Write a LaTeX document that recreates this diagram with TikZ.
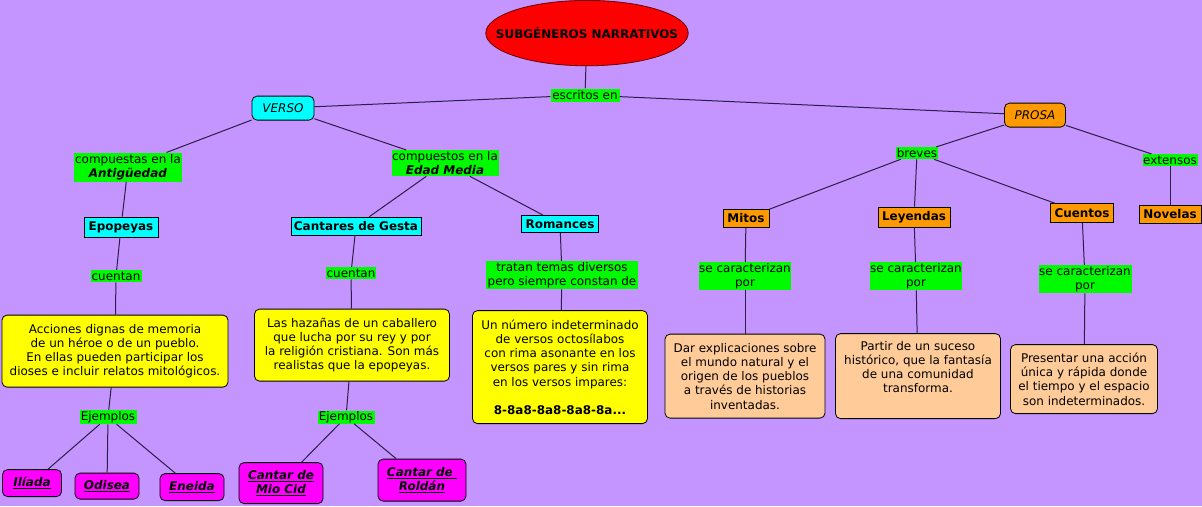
\documentclass[tikz,border=0pt]{standalone}
\usepackage{fontspec}
\setmainfont{DejaVu Sans}
\usetikzlibrary{shapes.geometric}
\definecolor{bg}{RGB}{196,148,255}
\definecolor{lgreen}{RGB}{0,250,0}
\definecolor{ccyan}{RGB}{0,255,255}
\definecolor{corange}{RGB}{255,153,0}
\definecolor{cyellow}{RGB}{255,255,0}
\definecolor{cpeach}{RGB}{255,204,153}
\definecolor{cmag}{RGB}{255,0,255}
\definecolor{cred}{RGB}{255,0,0}
\definecolor{linec}{RGB}{45,30,70}
\begin{document}
\begin{tikzpicture}[x=1bp,y=-1bp,
  every node/.style={font=\fontsize{12}{14.3}\selectfont, align=center, inner sep=0pt},
  sz/.style 2 args={minimum width=#1bp, minimum height=#2bp},
  lbl/.style={fill=lgreen},
  cbox/.style={draw=black, line width=0.8bp},
  rbox/.style={cbox, rounded corners=5bp},
  cyanbox/.style={cbox, fill=ccyan, font=\fontsize{12}{14.3}\selectfont\bfseries},
  orbox/.style={cbox, fill=corange, font=\fontsize{12}{14.3}\selectfont\bfseries},
  ylbox/.style={rbox, fill=cyellow},
  pcbox/.style={rbox, fill=cpeach},
  mgbox/.style={rbox, fill=cmag, font=\fontsize{12}{14.3}\selectfont\bfseries\itshape},
  con/.style={draw=linec, line width=1bp}
]
\fill[bg] (0,0) rectangle (1202,506);

% title
\node[ellipse, draw=black!60!red, line width=0.8bp, fill=cred, inner xsep=-19.5bp, inner ysep=17.5bp, font=\fontsize{12}{14.3}\selectfont\bfseries] (t) at (587,33) {SUBGÉNEROS NARRATIVOS};
\node[lbl, sz={69}{13}] (esc) at (585,95) {escritos en};
\node[rbox, fill=ccyan, sz={62}{24}, font=\fontsize{12}{14.3}\selectfont\itshape] (verso) at (283,108) {VERSO};
\node[rbox, fill=corange, sz={61}{24}, font=\fontsize{12}{14.3}\selectfont\itshape] (prosa) at (1035,115) {PROSA};

% verso branch
\node[lbl, sz={108}{29}] (antig) at (128,167) {compuestas en la\\\textbf{\textit{Antigüedad}}};
\node[lbl, sz={107}{26}] (edad) at (445,163) {compuestos en la\\\textbf{\textit{Edad Media}}};
\node[cyanbox, sz={74}{20}] (epop) at (121,227) {Epopeyas};
\node[cyanbox, sz={130}{18}] (cant) at (356,226) {Cantares de Gesta};
\node[cyanbox, sz={77}{17}] (rom) at (560,224) {Romances};
\node[lbl, sz={51}{12}] (cue1) at (116,276) {cuentan};
\node[lbl, sz={50}{12}] (cue2) at (351,273) {cuentan};
\node[lbl, sz={152}{28}] (trat) at (562,275) {tratan temas diversos\\pero siempre constan de};
\node[ylbox, sz={226}{72}] (acc) at (115,351) {Acciones dignas de memoria\\de un héroe o de un pueblo.\\En ellas pueden participar los\\dioses e incluir relatos mitológicos.};
\node[ylbox, sz={195}{72}] (haz) at (352,345) {Las hazañas de un caballero\\que lucha por su rey y por\\la religión cristiana. Son más\\realistas que la epopeyas.};
\node[ylbox, sz={175}{113}] (num) at (560,367) {Un número indeterminado\\de versos octosílabos\\con rima asonante en los\\versos pares y sin rima\\en los versos impares:\\[14.3bp]\textbf{8-8a8-8a8-8a8-8a...}};
\node[lbl, sz={57}{14}] (ej1) at (108,417) {Ejemplos};
\node[lbl, sz={57}{13}] (ej2) at (346,417) {Ejemplos};
\node[mgbox, sz={59}{27}] (ili) at (32,483) {\underline{Ilíada}};
\node[mgbox, sz={64}{26}] (odi) at (107,486) {\underline{Odisea}};
\node[mgbox, sz={64}{27}] (ene) at (192,487) {\underline{Eneida}};
\node[mgbox, sz={84}{41}] (cid) at (281,483) {\underline{Cantar de}\\\underline{Mio Cid}};
\node[mgbox, sz={88}{42}] (rol) at (422,480) {\underline{Cantar de }\\\underline{Roldán}};

% prosa branch
\node[lbl, sz={42}{12}] (brev) at (917,153) {breves};
\node[lbl, sz={55}{12}] (ext) at (1170,160) {extensos};
\node[orbox, sz={46}{18}] (mit) at (746,218) {Mitos};
\node[orbox, sz={72}{20}] (ley) at (914,217) {Leyendas};
\node[orbox, sz={63}{19}] (cuen) at (1082,213) {Cuentos};
\node[orbox, sz={62}{18}] (nov) at (1170,214) {Novelas};
\node[lbl, sz={92}{28}] (sc1) at (745,276) {se caracterizan\\por};
\node[lbl, sz={92}{28}] (sc2) at (916,276) {se caracterizan\\por};
\node[lbl, sz={93}{28}] (sc3) at (1085,279) {se caracterizan\\por};
\node[pcbox, sz={160}{84}] (dar) at (745,376) {Dar explicaciones sobre\\el mundo natural y el\\origen de los pueblos\\a través de historias\\inventadas.};
\node[pcbox, sz={165}{85}] (par) at (918,376) {Partir de un suceso\\histórico, que la fantasía\\de una comunidad\\transforma.\\\strut};
\node[pcbox, sz={147}{69}] (pre) at (1084,379) {Presentar una acción\\única y rápida donde\\el tiempo y el espacio\\son indeterminados.};

% connectors
\draw[con] (t) -- (esc);
\draw[con] (esc) -- (verso);
\draw[con] (esc) -- (prosa);
\draw[con] (verso) -- (antig);
\draw[con] (verso) -- (edad);
\draw[con] (antig) -- (epop);
\draw[con] (edad) -- (cant);
\draw[con] (edad) -- (rom);
\draw[con] (epop) -- (cue1);
\draw[con] (cue1) -- (acc);
\draw[con] (acc) -- (ej1);
\draw[con] (ej1) -- (ili);
\draw[con] (ej1) -- (odi);
\draw[con] (ej1) -- (ene);
\draw[con] (cant) -- (cue2);
\draw[con] (cue2) -- (haz);
\draw[con] (haz) -- (ej2);
\draw[con] (ej2) -- (cid);
\draw[con] (ej2) -- (rol);
\draw[con] (rom) -- (trat);
\draw[con] (trat) -- (num);
\draw[con] (prosa) -- (brev);
\draw[con] (prosa) -- (ext);
\draw[con] (brev) -- (mit);
\draw[con] (brev) -- (ley);
\draw[con] (brev) -- (cuen);
\draw[con] (ext) -- (nov);
\draw[con] (mit) -- (sc1);
\draw[con] (ley) -- (sc2);
\draw[con] (cuen) -- (sc3);
\draw[con] (sc1) -- (dar);
\draw[con] (sc2) -- (par);
\draw[con] (sc3) -- (pre);
\end{tikzpicture}
\end{document}
